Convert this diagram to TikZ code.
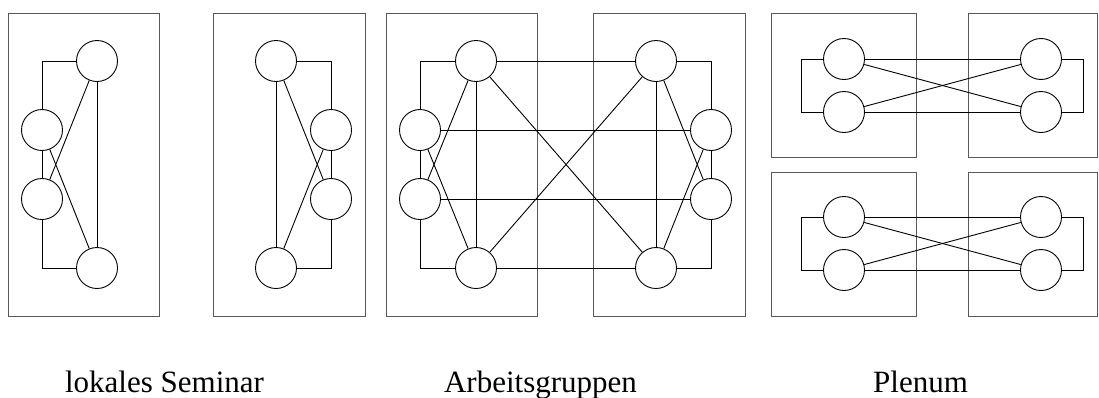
\documentclass[tikz,border=0pt]{standalone}
\usepackage{fontspec}
\setmainfont{Liberation Serif}
\begin{document}
\begin{tikzpicture}[x=1pt,y=-1pt,
  pers/.style={circle,draw,line width=0.9pt,minimum size=41pt,inner sep=0pt},
  link/.style={line width=0.9pt},
  frame/.style={draw=black!65,line width=1pt},
  lbl/.style={anchor=base,font=\fontsize{31}{37}\selectfont}]
\useasboundingbox (0,0) rectangle (1099,397);
% frames
\draw[frame] (8,13) rectangle (159,316);
\draw[frame] (213,13) rectangle (365,316);
\draw[frame] (386,13) rectangle (537,316);
\draw[frame] (593,13) rectangle (745,316);
\draw[frame] (771,13) rectangle (916,157);
\draw[frame] (968,13) rectangle (1097,157);
\draw[frame] (771,172) rectangle (916,316);
\draw[frame] (968,172) rectangle (1097,316);
% panel 1
\node[pers] (pA) at (97,61) {};
\node[pers] (pB) at (42,130) {};
\node[pers] (pC) at (42,199) {};
\node[pers] (pD) at (97,268) {};
\draw[link] (pA) -| (pB);
\draw[link] (pB) -- (pC);
\draw[link] (pC) |- (pD);
\draw[link] (pA) -- (pD);
\draw[link] (pA) -- (pC);
\draw[link] (pB) -- (pD);
% panel 2
\node[pers] (qA) at (276,61) {};
\node[pers] (qB) at (331,130) {};
\node[pers] (qC) at (331,199) {};
\node[pers] (qD) at (276,268) {};
\draw[link] (qA) -| (qB);
\draw[link] (qB) -- (qC);
\draw[link] (qC) |- (qD);
\draw[link] (qA) -- (qD);
\draw[link] (qA) -- (qC);
\draw[link] (qB) -- (qD);
% panel 3
\node[pers] (TL) at (476,61) {};
\node[pers] (L1) at (420,130) {};
\node[pers] (L2) at (420,199) {};
\node[pers] (BL) at (476,268) {};
\node[pers] (TR) at (656,61) {};
\node[pers] (R1) at (711,130) {};
\node[pers] (R2) at (711,199) {};
\node[pers] (BR) at (656,268) {};
\draw[link] (TL) -| (L1);
\draw[link] (L1) -- (L2);
\draw[link] (L2) |- (BL);
\draw[link] (TR) -| (R1);
\draw[link] (R1) -- (R2);
\draw[link] (R2) |- (BR);
\draw[link] (TL) -- (TR);
\draw[link] (BL) -- (BR);
\draw[link] (L1) -- (R1);
\draw[link] (L2) -- (R2);
\draw[link] (TL) -- (BL);
\draw[link] (TR) -- (BR);
\draw[link] (TL) -- (L2);
\draw[link] (L1) -- (BL);
\draw[link] (TR) -- (R2);
\draw[link] (R1) -- (BR);
\draw[link] (TL) -- (BR);
\draw[link] (BL) -- (TR);
% panel 4 top
\node[pers] (a1) at (844,59) {};
\node[pers] (a2) at (844,112) {};
\node[pers] (b1) at (1041,59) {};
\node[pers] (b2) at (1041,112) {};
\coordinate (ca) at (801,59);
\coordinate (cb) at (1083,59);
\draw[link] (a1) -- (ca) |- (a2);
\draw[link] (b1) -- (cb) |- (b2);
\draw[link] (a1) -- (b1);
\draw[link] (a2) -- (b2);
\draw[link] (a1) -- (b2);
\draw[link] (a2) -- (b1);
% panel 4 bottom
\node[pers] (d1) at (844,217) {};
\node[pers] (d2) at (844,270) {};
\node[pers] (e1) at (1041,217) {};
\node[pers] (e2) at (1041,270) {};
\coordinate (cd) at (801,217);
\coordinate (ce) at (1083,217);
\draw[link] (d1) -- (cd) |- (d2);
\draw[link] (e1) -- (ce) |- (e2);
\draw[link] (d1) -- (e1);
\draw[link] (d2) -- (e2);
\draw[link] (d1) -- (e2);
\draw[link] (d2) -- (e1);
% labels
\node[lbl] (t1) at (164.5,392) {lokales Seminar};
\node[lbl] (t2) at (540.5,392) {Arbeitsgruppen};
\node[lbl] (t3) at (920.5,392) {Plenum};
\end{tikzpicture}
\end{document}
